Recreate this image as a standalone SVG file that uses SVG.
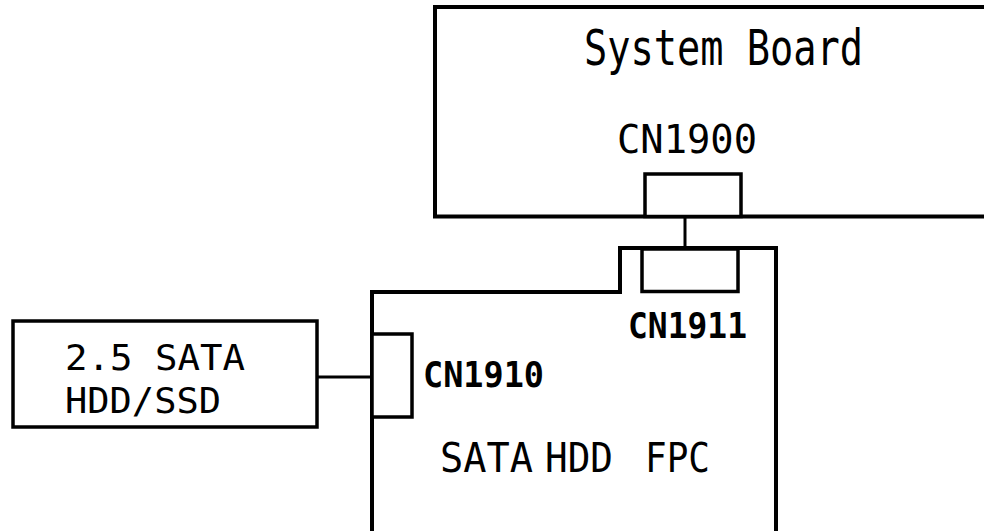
<svg xmlns="http://www.w3.org/2000/svg" width="984" height="531" viewBox="0 0 984 531">
<style>
.box{fill:none;stroke:#000;stroke-width:4}
.cn{fill:#fff;stroke:#000;stroke-width:3.5}
.wire{stroke:#000;stroke-width:3;fill:none}
.t{font-family:"DejaVu Sans Mono","Liberation Mono",monospace;fill:#000}
.b{font-weight:bold}
</style>
<rect width="984" height="531" fill="#fff"/>
<g id="system-board">
<rect class="box" x="435" y="7" width="600" height="209.5"/>
<text class="t" x="584" y="65" font-size="50" textLength="279" lengthAdjust="spacingAndGlyphs">System Board</text>
</g>
<g id="cn1900">
<rect class="cn" x="645" y="174" width="96" height="42.5"/>
<text class="t" x="617" y="153" font-size="39" textLength="140" lengthAdjust="spacingAndGlyphs">CN1900</text>
</g>
<g id="sata-hdd-fpc">
<path class="box" d="M372,540 V292 H620 V248 H776 V540"/>
<text class="t" y="472" font-size="41"><tspan x="440" textLength="93" lengthAdjust="spacingAndGlyphs">SATA</tspan> <tspan x="545" textLength="68" lengthAdjust="spacingAndGlyphs">HDD</tspan> <tspan x="645" textLength="65" lengthAdjust="spacingAndGlyphs">FPC</tspan></text>
</g>
<g id="cn1911">
<rect class="cn" x="642" y="249" width="96" height="42.5"/>
<text class="t b" x="628" y="338" font-size="36" textLength="119" lengthAdjust="spacingAndGlyphs">CN1911</text>
</g>
<g id="cn1910">
<rect class="cn" x="372" y="334" width="40" height="83"/>
<text class="t b" x="423" y="387" font-size="36" textLength="121" lengthAdjust="spacingAndGlyphs">CN1910</text>
</g>
<g id="hdd-ssd">
<rect class="box" x="13" y="321" width="304" height="106" style="stroke-width:3.5"/>
<text class="t" font-size="36"><tspan x="65" y="370" textLength="180" lengthAdjust="spacingAndGlyphs">2.5 SATA</tspan><tspan x="65" y="413" textLength="156" lengthAdjust="spacingAndGlyphs">HDD/SSD</tspan></text>
</g>
<g id="connectors">
<line class="wire" x1="685" y1="216.5" x2="685" y2="248"/>
<line class="wire" x1="317" y1="377" x2="372" y2="377"/>
</g>
</svg>
